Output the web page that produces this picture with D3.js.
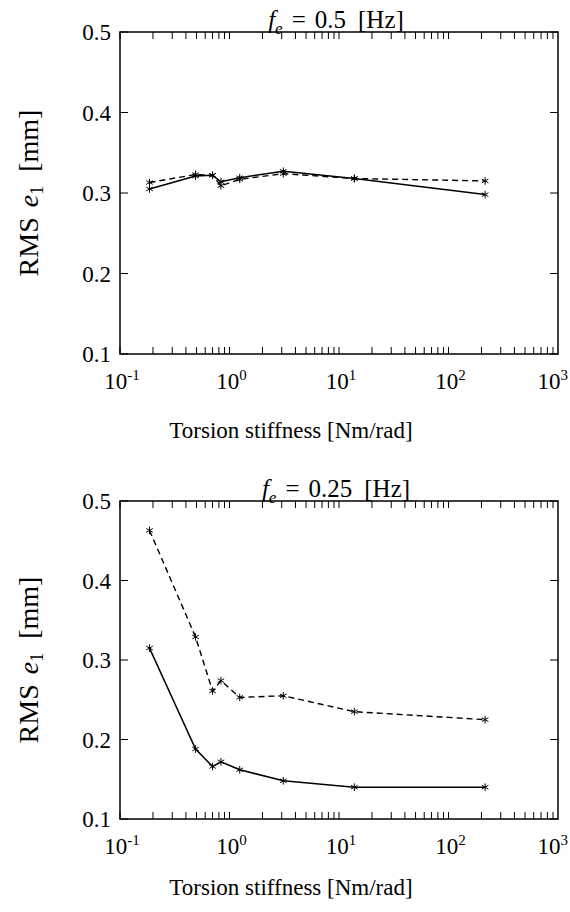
<!DOCTYPE html>
<html>
<head>
<meta charset="utf-8">
<script src="https://cdn.jsdelivr.net/npm/d3@7"></script>
<style>
  html, body { margin: 0; padding: 0; background: #fff; }
  svg { display: block; }
  text { font-family: "Liberation Serif", "DejaVu Serif", serif; fill: #000; }
</style>
</head>
<body>
<svg id="chart" width="570" height="912"></svg>
<script>
// ---- data ----
const stiffness = [0.186, 0.49, 0.70, 0.835, 1.24, 3.1, 13.8, 216];
const top_solid  = [0.305, 0.321, 0.322, 0.314, 0.319, 0.327, 0.318, 0.298];
const top_dashed = [0.313, 0.323, 0.322, 0.309, 0.317, 0.324, 0.318, 0.315];
const bot_solid  = [0.315, 0.188, 0.166, 0.172, 0.162, 0.148, 0.140, 0.140];
const bot_dashed = [0.463, 0.329, 0.261, 0.274, 0.253, 0.255, 0.235, 0.225];
const xTickExps = [-1, 0, 1, 2, 3];
const yTicks = [0.1, 0.2, 0.3, 0.4, 0.5];
const yTickLabels = ["0.1", "0.2", "0.3", "0.4", "0.5"];
const titles = ["0.5", "0.25"];
const xLabel = "Torsion stiffness [Nm/rad]";

const svg = d3.select("#chart");

function panel(top, bottom, freq, solid, dashed, xLabelY) {
  const x = d3.scaleLog().domain([0.1, 1000]).range([120, 558]);
  const y = d3.scaleLinear().domain([0.1, 0.5]).range([bottom, top]);
  const g = svg.append("g");
  const L = x.range()[0], R = x.range()[1];

  // minor/major x ticks (inward, top and bottom)
  const xt = [];
  xTickExps.forEach(e => {
    if (e < 3) for (let m = 1; m <= 9; m++) xt.push(m * Math.pow(10, e));
  });
  const tl = 7;
  g.selectAll(".xtb").data(xt).join("line")
    .attr("x1", d => x(d)).attr("x2", d => x(d))
    .attr("y1", bottom).attr("y2", bottom - tl)
    .attr("stroke", "#000").attr("stroke-width", 1);
  g.selectAll(".xtt").data(xt).join("line")
    .attr("x1", d => x(d)).attr("x2", d => x(d))
    .attr("y1", top).attr("y2", top + tl)
    .attr("stroke", "#000").attr("stroke-width", 1);
  // y ticks inward both sides
  g.selectAll(".ytl").data(yTicks).join("line")
    .attr("x1", L).attr("x2", L + 8)
    .attr("y1", d => y(d)).attr("y2", d => y(d))
    .attr("stroke", "#000").attr("stroke-width", 1);
  g.selectAll(".ytr").data(yTicks).join("line")
    .attr("x1", R).attr("x2", R - 8)
    .attr("y1", d => y(d)).attr("y2", d => y(d))
    .attr("stroke", "#000").attr("stroke-width", 1);

  // box
  g.append("rect").attr("x", L).attr("y", top)
    .attr("width", R - L).attr("height", bottom - top)
    .attr("fill", "none").attr("stroke", "#000").attr("stroke-width", 1.5);

  // y tick labels
  g.selectAll(".ylab").data(yTicks).join("text")
    .attr("x", L - 9).attr("y", d => y(d) + 8)
    .attr("text-anchor", "end").attr("font-size", 23)
    .text((d, i) => yTickLabels[i]);

  // x tick labels 10^e
  xTickExps.forEach((e, i) => {
    const last = i === xTickExps.length - 1;
    const t = g.append("text")
      .attr("x", last ? 568 : x(Math.pow(10, e)) + 2).attr("y", bottom + 35)
      .attr("text-anchor", last ? "end" : "middle").attr("font-size", 23);
    t.append("tspan").text("10");
    t.append("tspan").attr("dy", -9).attr("font-size", 15).text(e < 0 ? "-" + (-e) : String(e));
  });

  // x label
  g.append("text").attr("x", (L + R) / 2 - 48).attr("y", xLabelY)
    .attr("text-anchor", "middle").attr("font-size", 23).text(xLabel);

  // y label
  const cy = (top + bottom) / 2;
  const yl = g.append("text")
    .attr("transform", `translate(38,${cy}) rotate(-90)`)
    .attr("text-anchor", "middle").attr("font-size", 28);
  yl.append("tspan").text("RMS");
  yl.append("tspan").attr("dx", 10).attr("font-style", "italic").text("e");
  yl.append("tspan").attr("font-size", 18).attr("dy", 5).text("1");
  yl.append("tspan").attr("dy", -5).attr("dx", 14).text("[mm]");

  // title
  const tt = g.append("text").attr("x", (L + R) / 2 - 3).attr("y", top - 4)
    .attr("text-anchor", "middle").attr("font-size", 25);
  tt.append("tspan").attr("font-style", "italic").text("f");
  tt.append("tspan").attr("font-style", "italic").attr("font-size", 17).attr("dy", 6).text("e");
  tt.append("tspan").attr("dy", -6).attr("dx", 9).text("=");
  tt.append("tspan").attr("dx", 9).text(freq);
  tt.append("tspan").attr("dx", 12).text("[Hz]");

  // lines
  const line = d3.line().x((d, i) => x(stiffness[i])).y(d => y(d));
  g.append("path").datum(dashed).attr("d", line)
    .attr("fill", "none").attr("stroke", "#000").attr("stroke-width", 1.4)
    .attr("stroke-dasharray", "6,4");
  g.append("path").datum(solid).attr("d", line)
    .attr("fill", "none").attr("stroke", "#000").attr("stroke-width", 1.5);

  const sym = d3.symbol().type(d3.symbolAsterisk).size(40);
  [solid, dashed].forEach(ser => {
    g.selectAll(null).data(ser).join("path")
      .attr("d", sym)
      .attr("transform", (d, i) => `translate(${x(stiffness[i])},${y(d)})`)
      .attr("fill", "none").attr("stroke", "#000").attr("stroke-width", 1);
  });
}

panel(32, 354, titles[0], top_solid, top_dashed, 438);
panel(501, 819, titles[1], bot_solid, bot_dashed, 895);
</script>
</body>
</html>
